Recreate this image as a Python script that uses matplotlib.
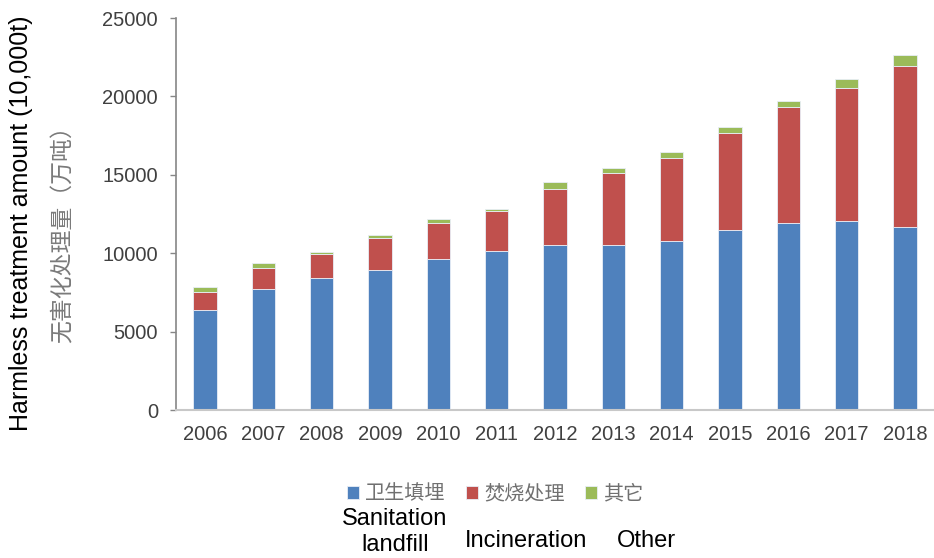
import matplotlib
matplotlib.use("Agg")
import matplotlib.pyplot as plt
import numpy as np

plt.rcParams['font.family'] = ['Liberation Sans', 'Noto Sans CJK SC', 'DejaVu Sans']

years = ['2006', '2007', '2008', '2009', '2010', '2011', '2012',
         '2013', '2014', '2015', '2016', '2017', '2018']
landfill = [6400, 7700, 8440, 8950, 9620, 10130, 10550,
            10550, 10770, 11490, 11920, 12080, 11700]
incineration = [1140, 1380, 1530, 2040, 2300, 2590, 3550,
                4580, 5320, 6190, 7380, 8430, 10270]
other = [300, 300, 130, 150, 230, 90, 450,
         320, 360, 360, 430, 600, 660]

names_cn = ['卫生填埋', '焚烧处理', '其它']
names_en = ['Sanitation\nlandfill', 'Incineration', 'Other']
colors = ['#4F81BD', '#C0504D', '#9BBB59']

fig = plt.figure(figsize=(9.34, 5.58), dpi=100)
ax = fig.add_axes([176/934, 1-410/558, (934-176)/934, (410-18)/558])

x = np.arange(len(years))
bottom = np.zeros(len(years))
handles = []
for vals, c, n in zip([landfill, incineration, other], colors, names_cn):
    b = ax.bar(x, vals, 0.4, bottom=bottom, color=c, edgecolor='#e8eef7',
               linewidth=0.6, label=n)
    bottom += np.array(vals)
    handles.append(b)

ax.set_xlim(-0.5, len(years)-0.5)
ax.set_ylim(0, 25000)
ax.set_yticks(range(0, 25001, 5000))
ax.set_xticks(x)
ax.set_xticklabels(years)
ax.tick_params(axis='x', length=0, pad=11, labelsize=14.5, labelcolor='#404040')
ax.tick_params(axis='y', length=4, width=1, color='#868686', pad=9,
               labelsize=14.5, labelcolor='#404040', direction='out')
ax.spines['top'].set_visible(False)
ax.spines['right'].set_color('#f0f0f0')
ax.spines['left'].set_color('#868686')
ax.spines['left'].set_linewidth(1.2)
ax.spines['bottom'].set_color('#c8c8c8')
ax.spines['bottom'].set_linewidth(1.5)

fig.text(21/934, 1-223/558, 'Harmless treatment amount (10,000t)', rotation=90,
         ha='center', va='center', fontsize=18, color='black')
fig.text(63/934, 1-229/558, '无害化处理量（万吨）', rotation=90,
         ha='center', va='center', fontsize=16.5, color='#7a7a7a',
         family=['Noto Sans CJK SC', 'DejaVu Sans'])

leg = fig.legend(handles=handles, loc='center', bbox_to_anchor=(495/934, 1-494/558),
                 ncol=3, frameon=False, handlelength=0.6, handleheight=0.6,
                 handletextpad=0.3, columnspacing=1.0,
                 prop={'family': 'Noto Sans CJK SC', 'size': 14.5})
for t in leg.get_texts():
    t.set_color('#707070')

fig.text(395/934, 1-532/558, names_en[0], ha='center', va='center',
         fontsize=17, linespacing=1.2)
fig.text(526/934, 1-541/558, names_en[1], ha='center', va='center', fontsize=17)
fig.text(646/934, 1-541/558, names_en[2], ha='center', va='center', fontsize=17)

fig.savefig('out.png', dpi=100)
